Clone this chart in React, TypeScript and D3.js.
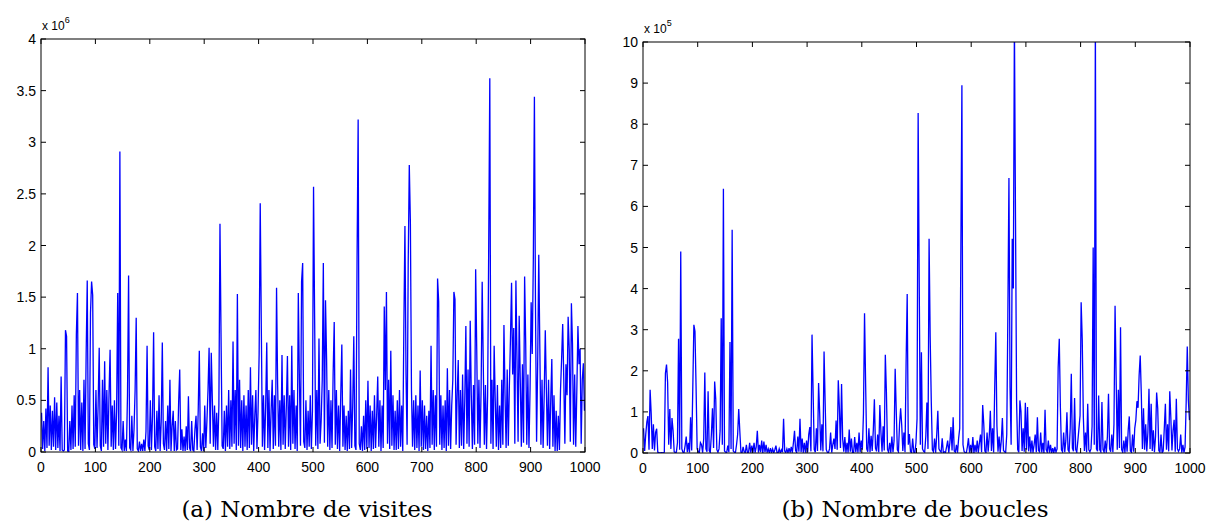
import React from "react";
import * as d3 from "d3";

// visits per position (step 2, units of 1e4)
const visites: number[] = [
  38, 3, 30, 1, 42, 4, 82, 6, 45, 2, 40, 5, 53, 2, 48, 4, 35, 1, 73, 2, 1, 2, 118, 112, 1,
  0, 30, 2, 45, 3, 55, 5, 114, 154, 6, 60, 2, 48, 1, 70, 3, 95, 166, 8, 2, 135, 165, 152, 7, 3,
  60, 4, 45, 101, 6, 1, 70, 5, 88, 8, 60, 2, 55, 99, 5, 45, 2, 50, 3, 40, 154, 6, 291, 4, 2,
  30, 1, 12, 1, 55, 171, 4, 2, 35, 1, 22, 60, 130, 3, 1, 10, 1, 8, 1, 12, 1, 20, 103, 6, 2,
  50, 2, 35, 116, 5, 1, 40, 3, 55, 1, 30, 106, 8, 2, 30, 1, 45, 3, 70, 1, 25, 40, 1, 30, 2,
  3, 48, 80, 2, 22, 1, 15, 1, 25, 2, 54, 4, 1, 30, 2, 1, 22, 35, 2, 40, 98, 5, 1, 18, 1,
  45, 4, 30, 60, 101, 8, 96, 50, 5, 45, 2, 38, 2, 45, 221, 110, 6, 3, 40, 1, 45, 5, 60, 3, 50,
  5, 107, 8, 60, 2, 153, 6, 70, 4, 50, 1, 55, 5, 45, 2, 60, 4, 82, 7, 55, 1, 35, 60, 3, 40,
  95, 241, 120, 5, 55, 2, 45, 106, 4, 60, 1, 40, 70, 3, 55, 6, 159, 65, 5, 50, 2, 94, 7, 55, 3,
  45, 93, 5, 55, 2, 103, 8, 60, 3, 45, 1, 154, 70, 6, 165, 183, 10, 4, 50, 2, 40, 5, 55, 3, 40,
  257, 129, 6, 60, 3, 110, 8, 30, 70, 183, 9, 147, 90, 5, 60, 2, 50, 4, 75, 126, 7, 60, 3, 45, 1,
  55, 104, 5, 45, 2, 35, 1, 40, 3, 80, 4, 45, 112, 6, 2, 187, 322, 8, 2, 25, 1, 35, 2, 50, 3,
  69, 4, 45, 1, 40, 3, 55, 4, 35, 73, 5, 50, 1, 45, 4, 141, 60, 155, 8, 70, 3, 98, 6, 55, 2,
  40, 2, 50, 3, 60, 5, 45, 1, 120, 219, 75, 7, 182, 278, 223, 60, 5, 50, 2, 55, 4, 45, 1, 79, 5,
  50, 2, 45, 3, 35, 1, 40, 4, 103, 7, 60, 2, 55, 5, 168, 146, 7, 55, 2, 45, 4, 50, 1, 81, 6,
  60, 3, 45, 70, 155, 148, 7, 55, 89, 4, 60, 6, 75, 3, 50, 122, 8, 80, 5, 127, 55, 3, 65, 7, 177,
  99, 8, 70, 4, 60, 165, 85, 7, 65, 3, 55, 199, 362, 8, 70, 3, 103, 50, 5, 65, 2, 45, 4, 70, 7,
  123, 55, 4, 80, 6, 65, 110, 164, 75, 120, 8, 166, 90, 10, 132, 70, 5, 85, 9, 170, 105, 7, 75, 4, 60,
  145, 95, 186, 344, 140, 10, 85, 191, 100, 7, 70, 4, 55, 118, 60, 6, 70, 3, 50, 90, 5, 55, 1, 40, 1,
  35, 2, 60, 90, 124, 70, 8, 85, 55, 131, 100, 10, 144, 105, 7, 75, 5, 60, 122, 85, 100, 8, 70, 86, 40,
];

// loops per position (step 2, units of 1e3)
const boucles: number[] = [
  60, 5, 45, 75, 90, 8, 154, 95, 10, 70, 6, 50, 59, 2, 1, 0, 1, 1, 0, 2, 194, 215, 172, 20, 107,
  10, 85, 54, 3, 1, 2, 25, 278, 8, 490, 10, 2, 1, 18, 40, 2, 25, 1, 87, 6, 156, 312, 296, 162, 10,
  3, 1, 25, 20, 1, 35, 196, 10, 3, 150, 6, 1, 45, 109, 12, 174, 131, 8, 2, 10, 55, 328, 20, 643, 5,
  2, 1, 18, 2, 270, 10, 543, 5, 2, 1, 20, 45, 107, 53, 2, 0, 15, 3, 1, 20, 0, 2, 25, 1, 18,
  1, 25, 1, 15, 54, 1, 20, 2, 30, 0, 28, 2, 20, 1, 10, 0, 12, 1, 10, 0, 8, 18, 1, 0, 10,
  0, 8, 2, 83, 5, 1, 10, 0, 12, 1, 15, 1, 25, 54, 6, 1, 40, 3, 83, 2, 35, 1, 25, 1, 30,
  2, 45, 63, 4, 288, 148, 8, 2, 60, 5, 170, 97, 6, 70, 4, 247, 122, 8, 2, 1, 10, 50, 1, 20, 35,
  10, 79, 8, 177, 110, 12, 168, 35, 3, 39, 1, 25, 1, 57, 3, 35, 1, 0, 39, 2, 25, 1, 50, 2, 30,
  8, 95, 340, 168, 10, 3, 60, 2, 42, 5, 55, 131, 12, 4, 45, 2, 117, 50, 3, 65, 6, 239, 147, 8, 2,
  25, 1, 40, 2, 30, 205, 101, 8, 3, 70, 109, 67, 5, 50, 2, 221, 387, 20, 46, 3, 1, 35, 2, 0, 25,
  83, 827, 413, 20, 245, 10, 4, 2, 40, 123, 10, 521, 282, 126, 8, 3, 35, 1, 45, 103, 10, 5, 2, 36, 1,
  3, 1, 15, 30, 1, 25, 63, 6, 87, 5, 2, 20, 1, 35, 60, 478, 895, 20, 4, 1, 0, 15, 36, 1, 20,
  1, 39, 0, 20, 2, 30, 1, 25, 45, 2, 117, 69, 5, 1, 50, 3, 40, 103, 5, 60, 1, 160, 294, 67, 3,
  40, 1, 30, 85, 6, 3, 1, 45, 334, 669, 160, 20, 521, 400, 1050, 570, 123, 8, 2, 128, 101, 5, 60, 3, 122,
  8, 112, 4, 40, 1, 30, 1, 20, 45, 2, 87, 6, 3, 50, 1, 25, 0, 105, 8, 2, 30, 1, 20, 0, 12,
  0, 15, 2, 10, 208, 278, 113, 8, 3, 50, 2, 30, 99, 8, 3, 60, 193, 12, 4, 134, 8, 2, 30, 60, 91,
  367, 276, 89, 5, 50, 2, 120, 8, 3, 10, 65, 500, 20, 1050, 10, 4, 140, 8, 3, 124, 8, 2, 30, 1, 40,
  144, 10, 3, 45, 2, 70, 358, 178, 8, 154, 12, 306, 8, 2, 30, 1, 40, 3, 55, 89, 5, 2, 45, 3, 60,
  80, 126, 110, 189, 237, 142, 10, 109, 8, 70, 4, 50, 156, 10, 120, 5, 55, 2, 40, 147, 108, 6, 2, 45, 1,
  5, 60, 120, 8, 70, 4, 150, 85, 6, 55, 81, 3, 132, 10, 4, 10, 45, 1, 20, 1, 15, 123, 259, 128, 80,
];

const xTicks = [0, 100, 200, 300, 400, 500, 600, 700, 800, 900, 1000];
const yTicksA = [0, 0.5, 1, 1.5, 2, 2.5, 3, 3.5, 4];
const yTicksB = [0, 1, 2, 3, 4, 5, 6, 7, 8, 9, 10];

const axisFont = "'Liberation Sans', Arial, Helvetica, sans-serif";
const captionFont = "'DejaVu Serif', 'Liberation Serif', serif";

type PanelProps = {
  id: string;
  values: number[];
  yMax: number;
  yTicks: number[];
  exponent: string;
  left: number;
  right: number;
  top: number;
  bottom: number;
  caption: string;
  captionX: number;
};

function Panel(p: PanelProps) {
  const x = d3.scaleLinear().domain([0, 1000]).range([p.left, p.right]);
  const y = d3.scaleLinear().domain([0, p.yMax]).range([p.bottom, p.top]);
  const line = d3
    .line<number>()
    .x((_, i) => x(i * 2 + 1))
    .y((v) => y(v / 100));
  const tl = 5;

  return (
    <g>
      <defs>
        <clipPath id={"clip-" + p.id}>
          <rect x={p.left} y={p.top} width={p.right - p.left} height={p.bottom - p.top} />
        </clipPath>
      </defs>
      <path
        d={line(p.values) || ""}
        fill="none"
        stroke="#0000ff"
        strokeWidth={1.3}
        strokeLinejoin="miter"
        clipPath={`url(#clip-${p.id})`}
      />
      <rect
        x={p.left}
        y={p.top}
        width={p.right - p.left}
        height={p.bottom - p.top}
        fill="none"
        stroke="#000"
        strokeWidth={1}
      />
      {xTicks.map((t) => (
        <g key={"x" + t}>
          <line x1={x(t)} x2={x(t)} y1={p.bottom} y2={p.bottom - tl} stroke="#000" />
          <line x1={x(t)} x2={x(t)} y1={p.top} y2={p.top + tl} stroke="#000" />
          <text
            x={x(t)}
            y={p.bottom + 20}
            textAnchor="middle"
            fontFamily={axisFont}
            fontSize={14}
            fill="#000"
          >
            {t}
          </text>
        </g>
      ))}
      {p.yTicks.map((t) => (
        <g key={"y" + t}>
          <line x1={p.left} x2={p.left + tl} y1={y(t)} y2={y(t)} stroke="#000" />
          <line x1={p.right} x2={p.right - tl} y1={y(t)} y2={y(t)} stroke="#000" />
          <text
            x={p.left - 5}
            y={y(t) + 5}
            textAnchor="end"
            fontFamily={axisFont}
            fontSize={14}
            fill="#000"
          >
            {String(t)}
          </text>
        </g>
      ))}
      <text x={p.left + 1} y={p.top - 9} fontFamily={axisFont} fontSize={12} fill="#000">
        x 10
        <tspan dy={-7} fontSize={9}>
          {p.exponent}
        </tspan>
      </text>
      <text
        x={p.captionX}
        y={517}
        textAnchor="middle"
        fontFamily={captionFont}
        fontSize={23}
        fill="#000"
      >
        {p.caption}
      </text>
    </g>
  );
}

export default function App() {
  return (
    <svg
      width={1215}
      height={525}
      style={{ position: "absolute", left: 0, top: 0, background: "#fff" }}
    >
      <Panel
        id="a"
        values={visites}
        yMax={4}
        yTicks={yTicksA}
        exponent="6"
        left={41}
        right={585}
        top={39}
        bottom={452}
        caption="(a) Nombre de visites"
        captionX={307}
      />
      <Panel
        id="b"
        values={boucles}
        yMax={10}
        yTicks={yTicksB}
        exponent="5"
        left={643}
        right={1190}
        top={42}
        bottom={453}
        caption="(b) Nombre de boucles"
        captionX={915}
      />
    </svg>
  );
}
